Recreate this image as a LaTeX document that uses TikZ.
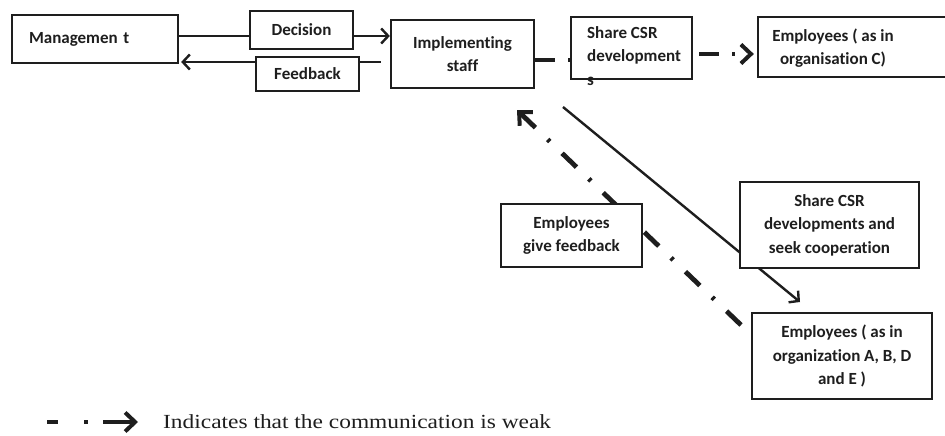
\documentclass[tikz,border=0pt]{standalone}
\usepackage{fontspec}
\setmainfont{Carlito}[Ligatures=NoCommon]
\newfontfamily\legendfont{Liberation Serif}[FakeStretch=1.17]
\usetikzlibrary{arrows.meta}
\definecolor{ink}{HTML}{1E1E1E}

\begin{document}
\begin{tikzpicture}[x=1pt, y=-1pt,
  box/.style={draw=ink, line width=2.3pt, fill=white, inner sep=0pt,
    text=ink, font=\fontsize{17}{23.5}\selectfont\bfseries, align=center},
  label/.style={text=ink, font=\fontsize{17}{23.5}\selectfont\bfseries, align=center, inner sep=0pt},
  strong/.style={draw=ink, line width=2.4pt},
  strongtip/.style={-{Straight Barb[length=7pt, width=15pt]}},
  weak/.style={draw=ink, line width=4.8pt},
  weaktip/.style={-{Straight Barb[length=10pt, width=19pt, line width=4pt]}}
]
\useasboundingbox (0,0) rectangle (945,436);

% free ends of the diagonal connectors
\coordinate (shareFrom) at (563,107);
\coordinate (shareTo)   at (800,302);
\coordinate (fbFrom)    at (741,325);
\coordinate (fbTo)      at (517,110);

% diagonal connectors run underneath the boxes they cross
\draw[strong, strongtip] (shareFrom) -- (shareTo);
\draw[weak, weaktip, dash pattern=on 20pt off 17pt on 3pt off 17pt] (fbFrom) -- (fbTo);

% top row
\node[box, minimum width=166pt, minimum height=48pt, text width=132pt, align=left]
  (mgmt) at (95,39) {Managemen t};
\node[box, minimum width=103pt, minimum height=38pt] (decision) at (301.5,30) {Decision};
\node[box, minimum width=103pt, minimum height=34pt] (feedback) at (307.5,74) {Feedback};
\node[box, minimum width=143pt, minimum height=68pt] (impl) at (462.5,54) {Implementing\\staff};
\node[box, minimum width=121pt, minimum height=62pt] (share) at (631.5,48) {};
\node[label, anchor=north west, align=left] (shareTxt) at (587,26) {Share CSR\\development\\s};
\node[box, minimum width=200pt, minimum height=60pt] (empC) at (858,47) {};
\node[label] (empCTxt) at (833,48) {Employees ( as in\\organisation C)};

% lower boxes
\node[box, minimum width=179pt, minimum height=86pt] (coop) at (829.5,225)
  {Share CSR\\developments and\\seek cooperation};
\node[box, minimum width=180pt, minimum height=86pt] (empABDE) at (842,356)
  {Employees ( as in\\organization A, B, D\\and E )};
\node[box, minimum width=141pt, minimum height=63pt] (empFb) at (571.5,235.5)
  {Employees\\give feedback};

% decision and feedback flows
\draw[strong] ([yshift=-6pt]decision.west) -- ([yshift=-6pt]decision.west -| mgmt.east);
\draw[strong, strongtip] ([yshift=-6pt]decision.east) -- ([yshift=-6pt]decision.east -| impl.west);
\draw[strong] ([yshift=12pt]feedback.east) -- ([yshift=12pt,xshift=-9pt]feedback.east -| impl.west);
\draw[strong, strongtip] ([yshift=12pt]feedback.west) -- ([yshift=12pt,xshift=2pt]feedback.west -| mgmt.east);

% weak flows along the top row
\draw[weak, dash pattern=on 20pt off 13pt on 3pt off 30pt]
  ([yshift=-6pt]impl.east) -- ([yshift=-6pt]impl.east -| share.west);
\draw[weak, weaktip, dash pattern=on 20pt off 13pt on 3pt off 30pt]
  ([yshift=-6pt,xshift=6pt]share.east) -- ([yshift=-6pt,xshift=-3pt]share.east -| empC.west);

% legend
\coordinate (legFrom) at (47,422);
\coordinate (legTo)   at (138,422);
\draw[weak, weaktip, dash pattern=on 11pt off 26pt on 4pt off 15pt on 60pt off 60pt] (legFrom) -- (legTo);
\node[anchor=base west, inner sep=0pt, text=ink, font=\legendfont\fontsize{20}{24}\selectfont]
  (legText) at (163,428) {Indicates that the communication is weak};
\end{tikzpicture}
\end{document}
